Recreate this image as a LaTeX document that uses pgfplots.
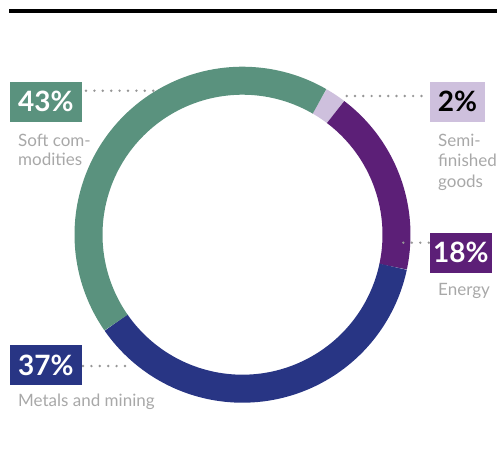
\documentclass[border=0pt]{standalone}
\usepackage{pgfplots}
\pgfplotsset{compat=1.18}
\usepackage{pgfplotstable}
\usepackage{fontspec}
\setmainfont{Lato}

\definecolor{cgreen}{RGB}{90,146,126}
\definecolor{clight}{RGB}{206,192,221}
\definecolor{cpurple}{RGB}{92,31,119}
\definecolor{cblue}{RGB}{40,53,132}
\definecolor{graytext}{RGB}{168,168,168}
\definecolor{dotcol}{RGB}{150,150,150}

\pgfplotstableread{
name value
Semi 2
Energy 18
Metals 37
Soft 43
}\donut

\pgfplotstablegetelem{0}{value}\of\donut \let\vA\pgfplotsretval
\pgfplotstablegetelem{1}{value}\of\donut \let\vB\pgfplotsretval
\pgfplotstablegetelem{2}{value}\of\donut \let\vC\pgfplotsretval
\pgfplotstablegetelem{3}{value}\of\donut \let\vD\pgfplotsretval
\pgfmathsetmacro\aA{60}
\pgfmathsetmacro\aB{\aA-3.6*\vA}
\pgfmathsetmacro\aC{\aB-3.6*\vB}
\pgfmathsetmacro\aD{\aC-3.6*\vC}
\pgfmathsetmacro\aE{\aD-3.6*\vD}

\newcommand\pct{\fontsize{28}{30}\selectfont\bfseries}
\newcommand\lbl{\fontsize{17}{20}\selectfont}

\begin{document}
\begin{tikzpicture}
\begin{axis}[width=497pt, height=448pt, scale only axis,
  xmin=0, xmax=497, ymin=0, ymax=448, y dir=reverse,
  hide axis, clip=false]
% top rule
\addplot[draw=none, fill=black] coordinates {(9,8.6) (497,8.6) (497,12.8) (9,12.8)} --cycle;
% donut ring
\addplot[clight, line width=28pt, domain=\aB:\aA, samples=10] ({242.5+154*cos(x)},{234.7-154*sin(x)});
\addplot[cpurple, line width=28pt, domain=\aC:\aB, samples=40] ({242.5+154*cos(x)},{234.7-154*sin(x)});
\addplot[cblue, line width=28pt, domain=\aD:\aC, samples=80] ({242.5+154*cos(x)},{234.7-154*sin(x)});
\addplot[cgreen, line width=28pt, domain=\aE:\aD, samples=90] ({242.5+154*cos(x)},{234.7-154*sin(x)});
% leader lines
\addplot[dotcol, line width=2.7pt, line cap=round, dash pattern=on 0pt off 8.4pt] coordinates {(86,90.7) (156,90.7)};
\addplot[dotcol, line width=2.7pt, line cap=round, dash pattern=on 0pt off 8.3pt] coordinates {(346.7,96) (429,96)};
\addplot[dotcol, line width=2.7pt, line cap=round, dash pattern=on 0pt off 8.5pt] coordinates {(403.3,242.7) (430,242.7)};
\addplot[dotcol, line width=2.7pt, line cap=round, dash pattern=on 0pt off 8.4pt] coordinates {(83,366) (126,366)};
% boxes
\addplot[draw=none, fill=cgreen] coordinates {(10,81.7) (81.7,81.7) (81.7,121.7) (10,121.7)} --cycle;
\addplot[draw=none, fill=clight] coordinates {(430,81.7) (485,81.7) (485,121.7) (430,121.7)} --cycle;
\addplot[draw=none, fill=cpurple] coordinates {(430,232.7) (491.7,232.7) (491.7,272.7) (430,272.7)} --cycle;
\addplot[draw=none, fill=cblue] coordinates {(10,345) (81.7,345) (81.7,385) (10,385)} --cycle;
% percentages
\node[anchor=base, inner sep=0, text=white, font=\pct] at (axis cs:45.8,111.7) {43\%};
\node[anchor=base, inner sep=0, text=black, font=\pct] at (axis cs:457.5,111.7) {2\%};
\node[anchor=base, inner sep=0, text=white, font=\pct] at (axis cs:460.8,262.7) {18\%};
\node[anchor=base, inner sep=0, text=white, font=\pct] at (axis cs:45.8,375) {37\%};
% labels
\node[anchor=base west, inner sep=0, text=graytext, font=\lbl] at (axis cs:18,146) {Soft com-};
\node[anchor=base west, inner sep=0, text=graytext, font=\lbl] at (axis cs:18,165) {modities};
\node[anchor=base west, inner sep=0, text=graytext, font=\lbl] at (axis cs:438,146) {Semi-};
\node[anchor=base west, inner sep=0, text=graytext, font=\lbl] at (axis cs:438,166.5) {finished};
\node[anchor=base west, inner sep=0, text=graytext, font=\lbl] at (axis cs:438,187) {goods};
\node[anchor=base west, inner sep=0, text=graytext, font=\lbl] at (axis cs:438,295) {Energy};
\node[anchor=base west, inner sep=0, text=graytext, font=\lbl] at (axis cs:18,406) {Metals and mining};
\end{axis}
\path (current axis.south west) rectangle (current axis.north east);
\end{tikzpicture}
\end{document}
